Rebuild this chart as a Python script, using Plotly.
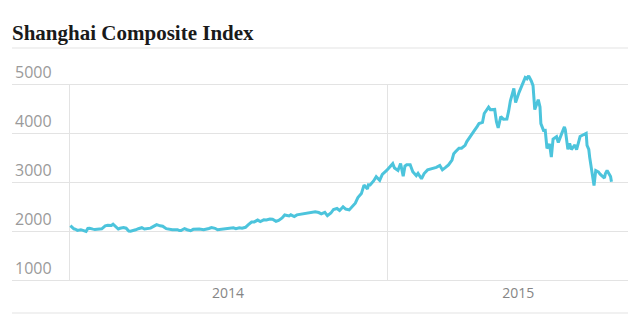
import plotly.graph_objects as go

dates = [
    "2014-01-02","2014-01-06","2014-01-08","2014-01-10","2014-01-14","2014-01-17","2014-01-20","2014-01-22","2014-01-24","2014-01-28","2014-01-30",
    "2014-02-07","2014-02-11","2014-02-14","2014-02-18","2014-02-20","2014-02-24","2014-02-26","2014-02-28",
    "2014-03-04","2014-03-07","2014-03-10","2014-03-12","2014-03-14","2014-03-18","2014-03-21","2014-03-25","2014-03-28",
    "2014-04-01","2014-04-04","2014-04-09","2014-04-11","2014-04-15","2014-04-18","2014-04-22","2014-04-25","2014-04-29",
    "2014-05-05","2014-05-07","2014-05-09","2014-05-13","2014-05-16","2014-05-20","2014-05-23","2014-05-27","2014-05-30",
    "2014-06-04","2014-06-06","2014-06-10","2014-06-13","2014-06-17","2014-06-20","2014-06-24","2014-06-27",
    "2014-07-01","2014-07-04","2014-07-08","2014-07-11","2014-07-15","2014-07-18","2014-07-22","2014-07-25","2014-07-29",
    "2014-08-01","2014-08-05","2014-08-08","2014-08-12","2014-08-15","2014-08-19","2014-08-22","2014-08-26","2014-08-29",
    "2014-09-02","2014-09-05","2014-09-10","2014-09-12","2014-09-16","2014-09-19","2014-09-23","2014-09-26","2014-09-30",
    "2014-10-10","2014-10-14","2014-10-17","2014-10-21","2014-10-24","2014-10-28","2014-10-31",
    "2014-11-04","2014-11-07","2014-11-11","2014-11-14","2014-11-18","2014-11-21","2014-11-25","2014-11-28",
    "2014-12-02","2014-12-05","2014-12-09","2014-12-10","2014-12-12","2014-12-16","2014-12-19","2014-12-23","2014-12-26","2014-12-31",
    "2015-01-05","2015-01-07","2015-01-09","2015-01-13","2015-01-16","2015-01-19","2015-01-21","2015-01-23","2015-01-27","2015-01-30",
    "2015-02-03","2015-02-05","2015-02-09","2015-02-12","2015-02-16","2015-02-26",
    "2015-03-02","2015-03-05","2015-03-09","2015-03-12","2015-03-16","2015-03-18","2015-03-20","2015-03-24","2015-03-27","2015-03-31",
    "2015-04-02","2015-04-08","2015-04-10","2015-04-14","2015-04-16","2015-04-20","2015-04-22","2015-04-27","2015-04-29",
    "2015-05-04","2015-05-06","2015-05-08","2015-05-11","2015-05-14","2015-05-18","2015-05-20","2015-05-22","2015-05-26","2015-05-28",
    "2015-06-01","2015-06-03","2015-06-05","2015-06-08","2015-06-10","2015-06-12","2015-06-15","2015-06-17","2015-06-19","2015-06-23","2015-06-25","2015-06-26","2015-06-29",
    "2015-07-01","2015-07-03","2015-07-06","2015-07-08","2015-07-10","2015-07-14","2015-07-16","2015-07-20","2015-07-23","2015-07-24","2015-07-27","2015-07-29","2015-07-31",
    "2015-08-04","2015-08-06","2015-08-10","2015-08-13","2015-08-17","2015-08-18","2015-08-20","2015-08-21","2015-08-24","2015-08-26","2015-08-27","2015-08-28","2015-08-31",
    "2015-09-02","2015-09-07","2015-09-08","2015-09-10","2015-09-11","2015-09-14","2015-09-15",
]
values = [
    2109,2045,2034,2013,2027,2004,1991,2052,2054,2038,2033,
    2044,2104,2115,2113,2139,2076,2041,2056,
    2071,2057,1999,1997,2004,2025,2047,2067,2041,
    2047,2058,2110,2130,2105,2097,2047,2036,2026,
    2027,2010,2011,2050,2026,2005,2034,2041,2039,
    2024,2030,2052,2070,2055,2024,2034,2036,
    2050,2059,2066,2047,2067,2059,2076,2126,2183,
    2185,2223,2194,2227,2226,2246,2240,2197,2217,
    2266,2327,2307,2331,2296,2329,2343,2347,2364,
    2394,2377,2351,2380,2312,2367,2440,
    2460,2418,2494,2448,2430,2487,2568,2683,
    2763,2937,2857,2940,2938,3021,3108,3033,3157,3235,
    3351,3374,3285,3236,3376,3116,3323,3351,3353,3210,
    3128,3175,3065,3173,3247,3298,
    3336,3248,3302,3349,3449,3577,3617,3691,3691,3748,
    3825,3995,4034,4135,4194,4217,4398,4527,4476,
    4481,4229,4105,4333,4282,4283,4446,4657,4910,4620,
    4829,4910,5023,5131,5106,5166,5062,4967,4478,4680,4529,4192,4053,
    4054,3686,3775,3507,3877,3924,3805,3992,4124,4070,3665,3789,3664,
    3756,3661,3928,3955,3994,3749,3664,3508,3210,2927,3084,3232,3206,
    3160,3080,3170,3237,3200,3114,3005,
]

title = "Shanghai Composite Index"
y_ticks = [1000, 2000, 3000, 4000, 5000]
year_starts = ["2014-01-01", "2015-01-01"]
x_label_dates = ["2014-07-02", "2015-05-31"]
x_labels = ["2014", "2015"]

grid = "#e3e3e3"

fig = go.Figure()
fig.add_trace(go.Scatter(
    x=dates, y=values, mode="lines",
    line=dict(color="#4cc4dc", width=3),
    hoverinfo="skip", showlegend=False,
))

shapes = [
    dict(type="line", xref="x", yref="y", x0=d, x1=d, y0=y_ticks[0], y1=y_ticks[-1],
         line=dict(color=grid, width=1), layer="below")
    for d in year_starts
]
shapes += [
    dict(type="line", xref="paper", yref="paper", x0=0, x1=1,
         y0=(280-48)/206, y1=(280-48)/206, line=dict(color=grid, width=1)),
    dict(type="line", xref="paper", yref="paper", x0=0, x1=1,
         y0=(280-313)/206, y1=(280-313)/206, line=dict(color=grid, width=1)),
]

fig.update_layout(
    width=630, height=318,
    margin=dict(l=12, r=2, t=74, b=38),
    paper_bgcolor="white", plot_bgcolor="white",
    title=dict(text="<b>" + title + "</b>", xref="container", yref="container",
               x=12/630, xanchor="left", y=(318-33)/318, yanchor="middle",
               font=dict(family="Liberation Serif", size=21, color="#1a1a1a")),
    xaxis=dict(
        type="date", range=["2013-10-27", "2015-10-04"],
        tickmode="array", tickvals=x_label_dates, ticktext=x_labels,
        showgrid=False, ticks="", showline=True, linecolor=grid, linewidth=1,
        zeroline=False,
        tickfont=dict(family="Open Sans", size=14, color="#858585"),
    ),
    yaxis=dict(
        range=[1000, 5204], tickmode="array", tickvals=y_ticks,
        ticktext=[str(v) for v in y_ticks],
        showgrid=True, gridcolor=grid, gridwidth=1, zeroline=False,
        ticks="", ticklabelposition="inside top", ticklabeloverflow="allow",
        tickfont=dict(family="Open Sans", size=16, color="#9a9a9a"),
    ),
    shapes=shapes,
)

fig.write_html("out.html")
